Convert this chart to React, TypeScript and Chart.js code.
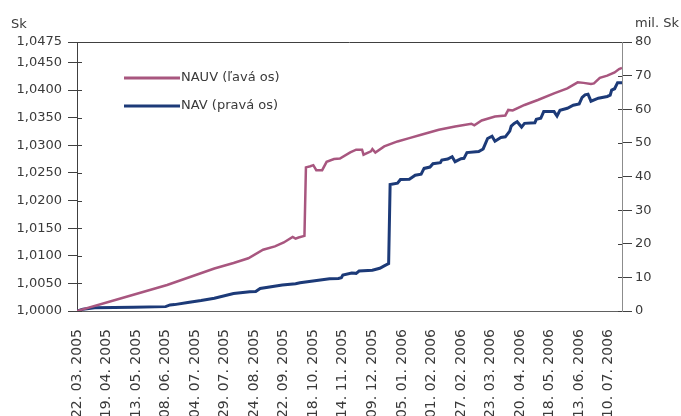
import { useEffect, useRef } from 'react';
import { Chart, registerables } from 'chart.js';

Chart.register(...registerables);

// X axis: business-day index, labels every 20 days
const xTickPositions = [0, 20, 40, 60, 80, 100, 120, 140, 160, 180, 200, 220, 240, 260, 280, 300, 320, 340, 360];
const xTickLabels = [
  '22. 03. 2005', '19. 04. 2005', '13. 05. 2005', '08. 06. 2005', '04. 07. 2005',
  '29. 07. 2005', '24. 08. 2005', '22. 09. 2005', '18. 10. 2005', '14. 11. 2005',
  '09. 12. 2005', '05. 01. 2006', '01. 02. 2006', '27. 02. 2006', '23. 03. 2006',
  '20. 04. 2006', '18. 05. 2006', '13. 06. 2006', '10. 07. 2006',
];
const xMax = 369;

// Left axis (Sk)
const leftTickValues = [1.0, 1.005, 1.01, 1.015, 1.02, 1.025, 1.03, 1.035, 1.04, 1.045, 1.0487];
const leftTickLabels = ['1,0000', '1,0050', '1,0100', '1,0150', '1,0200', '1,0250', '1,0300', '1,0350', '1,0400', '1,0450', '1,0475'];
const leftMin = 1.0;
const leftMax = 1.0487;

// Right axis (mil. Sk)
const rightMin = 0;
const rightMax = 80;
const rightStep = 10;

// NAUV (left axis)
const nauvIdx = [0, 30, 61, 93, 106, 116, 126, 134, 140, 146, 148, 150, 154, 155, 158, 160, 162, 166, 169, 174, 178, 185, 189, 193, 194, 199, 200, 202, 208, 217, 225, 233, 245, 256, 267, 269, 274, 283, 290, 292, 295, 303, 312, 323, 332, 339, 343, 348, 350, 354, 359, 364, 367, 369];
const nauvVal = [1.0, 1.0023, 1.0047, 1.0077, 1.0087, 1.00955, 1.0111, 1.0117, 1.0124, 1.0134, 1.0131, 1.0133, 1.0136, 1.026, 1.0262, 1.0264, 1.0255, 1.0255, 1.027, 1.0275, 1.0276, 1.0287, 1.0292, 1.0292, 1.0283, 1.0289, 1.0293, 1.0287, 1.0298, 1.0307, 1.0313, 1.0319, 1.0328, 1.0334, 1.0339, 1.0336, 1.0345, 1.0352, 1.0354, 1.0364, 1.0363, 1.0373, 1.0382, 1.0394, 1.0403, 1.0414, 1.0413, 1.0411, 1.0412, 1.0422, 1.0426, 1.0432, 1.0438, 1.044];

// NAV (right axis)
const navIdx = [0, 4, 12, 38, 60, 63, 66, 75, 84, 93, 106, 117, 121, 124, 139, 148, 151, 161, 171, 177, 179, 180, 186, 189, 191, 200, 205, 208, 211, 212, 217, 219, 225, 229, 233, 235, 239, 241, 246, 247, 251, 254, 256, 260, 262, 264, 272, 275, 278, 281, 283, 287, 290, 293, 294, 296, 298, 301, 303, 310, 311, 314, 316, 323, 325, 327, 332, 336, 340, 342, 344, 346, 348, 353, 359, 361, 362, 364, 366, 369];
const navVal = [0, 0.5, 0.95, 1.1, 1.3, 1.8, 1.9, 2.5, 3.1, 3.8, 5.2, 5.7, 5.8, 6.7, 7.7, 8.1, 8.4, 9.0, 9.6, 9.7, 9.9, 10.7, 11.3, 11.2, 11.9, 12.1, 12.7, 13.4, 14.1, 37.6, 38.0, 39.1, 39.2, 40.4, 40.7, 42.4, 42.8, 43.8, 44.1, 44.9, 45.2, 45.9, 44.4, 45.3, 45.4, 47.1, 47.4, 48.2, 51.3, 52.0, 50.5, 51.6, 51.8, 53.5, 55.0, 55.8, 56.3, 54.7, 55.8, 56.0, 57.0, 57.3, 59.3, 59.3, 58.0, 59.7, 60.3, 61.2, 61.6, 63.5, 64.3, 64.5, 62.4, 63.3, 63.8, 64.2, 65.7, 66.1, 67.9, 67.9];

const NAUV_COLOR = '#a8567f';
const NAV_COLOR = '#1c3a78';
const TEXT_COLOR = '#3a3a3a';
const FONT = 'DejaVu Sans';

const decorPlugin = {
  id: 'decor',
  afterDraw(chart: any) {
    const { ctx, chartArea } = chart;
    const yL = chart.scales.yL;
    const yR = chart.scales.yR;
    ctx.save();
    // top border
    ctx.strokeStyle = '#404040';
    ctx.lineWidth = 1;
    ctx.beginPath();
    ctx.moveTo(chartArea.left, chartArea.top + 0.5);
    ctx.lineTo(chartArea.right, chartArea.top + 0.5);
    ctx.stroke();
    // inner tick parts
    ctx.beginPath();
    yL.ticks.forEach((t: any) => {
      const p = Math.round(yL.getPixelForValue(t.value)) + 0.5;
      ctx.moveTo(chartArea.left, p);
      ctx.lineTo(chartArea.left + 5, p);
    });
    yR.ticks.forEach((t: any) => {
      const p = Math.round(yR.getPixelForValue(t.value)) + 0.5;
      ctx.moveTo(chartArea.right - 4, p);
      ctx.lineTo(chartArea.right, p);
    });
    ctx.stroke();
    // axis titles
    ctx.fillStyle = TEXT_COLOR;
    ctx.font = `13px "${FONT}"`;
    ctx.textBaseline = 'alphabetic';
    ctx.textAlign = 'left';
    ctx.fillText('Sk', 11, 28);
    ctx.fillText('mil. Sk', 635, 27);
    // legend
    const rows = [78, 106];
    chart.data.datasets.forEach((ds: any, i: number) => {
      const y = rows[i];
      ctx.strokeStyle = ds.borderColor;
      ctx.lineWidth = 3;
      ctx.beginPath();
      ctx.moveTo(124, y);
      ctx.lineTo(180, y);
      ctx.stroke();
      ctx.fillStyle = TEXT_COLOR;
      ctx.textBaseline = 'middle';
      ctx.fillText(ds.label, 181, y);
    });
    ctx.restore();
  },
};

export default function App() {
  const ref = useRef<HTMLCanvasElement | null>(null);
  useEffect(() => {
    document.body.style.margin = '0';
    if (!ref.current) return;
    Chart.defaults.font.family = FONT;
    Chart.defaults.font.size = 13;
    Chart.defaults.color = TEXT_COLOR;
    const chart = new Chart(ref.current, {
      type: 'line',
      data: {
        datasets: [
          {
            label: 'NAUV (ľavá os)',
            data: nauvIdx.map((x, i) => ({ x, y: nauvVal[i] })),
            yAxisID: 'yL',
            borderColor: NAUV_COLOR,
            backgroundColor: NAUV_COLOR,
            borderWidth: 2.5,
            pointRadius: 0,
            tension: 0,
          },
          {
            label: 'NAV (pravá os)',
            data: navIdx.map((x, i) => ({ x, y: navVal[i] })),
            yAxisID: 'yR',
            borderColor: NAV_COLOR,
            backgroundColor: NAV_COLOR,
            borderWidth: 3,
            pointRadius: 0,
            tension: 0,
          },
        ],
      },
      options: {
        animation: false,
        responsive: false,
        devicePixelRatio: 1,
        layout: { padding: { top: 42, left: 0, right: 0, bottom: 0 } },
        plugins: { legend: { display: false }, tooltip: { enabled: false } },
        scales: {
          x: {
            type: 'linear',
            min: 0,
            max: xMax,
            afterBuildTicks: (s: any) => {
              s.ticks = xTickPositions.map((v) => ({ value: v }));
            },
            afterFit: (s: any) => {
              s.height = 105;
            },
            ticks: {
              autoSkip: false,
              minRotation: 90,
              maxRotation: 90,
              padding: 18,
              color: TEXT_COLOR,
              font: { size: 14 },
              callback: (v: any) => {
                const k = xTickPositions.indexOf(Number(v));
                return k >= 0 ? xTickLabels[k] : '';
              },
            },
            grid: { display: false, drawTicks: false },
            border: { display: true, color: '#606060', width: 1 },
          },
          yL: {
            type: 'linear',
            position: 'left',
            min: leftMin,
            max: leftMax,
            afterBuildTicks: (s: any) => {
              s.ticks = leftTickValues.map((v) => ({ value: v }));
            },
            afterFit: (s: any) => {
              s.width = 77;
            },
            ticks: {
              padding: 6,
              color: TEXT_COLOR,
              callback: (v: any) => {
                const k = leftTickValues.findIndex((t) => Math.abs(t - Number(v)) < 1e-7);
                return k >= 0 ? leftTickLabels[k] : '';
              },
            },
            grid: { drawOnChartArea: false, tickLength: 9, color: '#404040' },
            border: { display: true, color: '#404040', width: 1 },
          },
          yR: {
            type: 'linear',
            position: 'right',
            min: rightMin,
            max: rightMax,
            afterFit: (s: any) => {
              s.width = 59;
            },
            ticks: { stepSize: rightStep, padding: 3, color: TEXT_COLOR },
            grid: { drawOnChartArea: false, tickLength: 10, color: '#404040' },
            border: { display: true, color: '#8c8c8c', width: 1 },
          },
        },
      },
      plugins: [decorPlugin],
    });
    return () => chart.destroy();
  }, []);
  return (
    <div style={{ width: 681, height: 416, overflow: 'hidden' }}>
      <canvas ref={ref} width={681} height={416} style={{ display: 'block' }} />
    </div>
  );
}
